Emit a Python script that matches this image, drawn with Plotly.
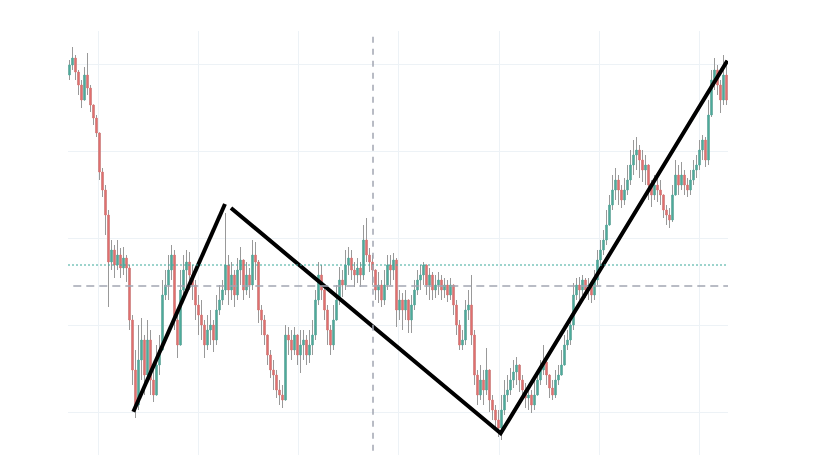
import plotly.graph_objects as go

# ---- data (price values) ----
close = [43.5, 44.2, 42.8, 41.5, 40.0, 42.5, 41.2, 39.5, 38.2, 36.7,
         32.8, 31.0, 28.5, 23.8, 25.0, 23.5, 24.5, 23.2, 24.2, 23.2,
         18.0, 13.0, 9.5, 14.0, 16.0, 12.5, 16.0, 12.0, 10.5, 13.5,
         15.0, 20.5, 21.5, 23.0, 24.5, 18.0, 15.5, 21.0, 23.0, 23.8,
         22.5, 21.5, 19.5, 18.5, 17.5, 15.5, 17.0, 17.5, 16.0, 19.0,
         20.0, 21.0, 23.5, 21.0, 22.5, 20.5, 23.0, 24.0, 21.0, 22.5,
         21.5, 24.5, 23.8, 19.0, 18.0, 16.5, 14.5, 13.0, 12.5, 11.0,
         10.5, 10.0, 16.5, 16.0, 15.0, 16.5, 14.5, 15.5, 16.0, 14.5,
         15.5, 16.5, 20.0, 22.5, 21.0, 19.0, 17.0, 15.5, 18.0, 20.0,
         22.0, 21.5, 23.5, 24.2, 23.0, 22.5, 23.2, 22.5, 26.0, 24.5,
         23.8, 23.0, 21.0, 21.5, 20.0, 21.5, 23.5, 23.0, 24.0, 19.0,
         20.0, 19.0, 20.0, 18.0, 19.5, 21.0, 22.0, 22.5, 23.5, 21.5,
         22.5, 21.0, 21.5, 22.0, 21.0, 21.5, 20.5, 21.5, 19.5, 17.5,
         15.5, 16.0, 19.0, 19.5, 16.5, 12.5, 10.5, 12.0, 11.0, 13.0,
         10.0, 9.0, 8.0, 7.2, 9.0, 10.5, 11.0, 12.0, 12.8, 13.5,
         12.0, 11.0, 10.2, 10.5, 9.5, 10.5, 12.0, 13.0, 13.8, 12.5,
         11.2, 10.5, 12.0, 12.5, 13.5, 15.5, 16.0, 17.5, 20.5, 21.5,
         21.0, 22.0, 21.0, 21.5, 20.5, 22.0, 24.0, 25.0, 26.0, 27.5,
         29.5, 31.0, 32.0, 31.0, 30.0, 31.0, 32.0, 33.5, 34.5, 35.0,
         34.0, 33.0, 33.5, 31.5, 30.5, 31.5, 31.0, 30.5, 29.0, 28.5,
         28.0, 30.5, 32.5, 31.5, 32.5, 31.5, 31.0, 32.0, 33.0, 33.5,
         35.0, 36.0, 34.0, 38.5, 42.0, 43.0, 41.5, 40.0, 42.5, 40.0]

high = [44.0, 45.3, 44.5, 43.0, 42.0, 43.3, 44.7, 41.5, 39.5, 38.5,
        36.7, 33.2, 31.5, 29.0, 26.0, 25.5, 26.0, 25.2, 25.3, 24.5,
        23.5, 18.5, 15.0, 17.5, 18.2, 16.5, 18.0, 17.0, 13.5, 15.5,
        16.5, 22.0, 23.0, 24.5, 25.5, 25.0, 19.0, 23.0, 24.5, 25.0,
        24.8, 23.5, 22.0, 20.5, 20.0, 18.0, 18.5, 19.0, 18.0, 20.5,
        21.5, 22.0, 28.7, 24.5, 23.8, 23.0, 24.2, 25.3, 23.5, 23.8,
        23.2, 26.0, 25.8, 24.0, 19.5, 18.5, 16.5, 15.0, 14.0, 13.0,
        12.0, 11.5, 17.5, 17.3, 17.0, 17.3, 16.5, 17.0, 17.0, 16.5,
        17.0, 18.0, 21.0, 23.8, 23.5, 21.5, 19.5, 17.5, 19.5, 21.5,
        23.3, 23.0, 25.0, 25.3, 25.0, 23.8, 24.2, 23.8, 27.5, 28.2,
        25.2, 24.5, 23.0, 22.8, 22.0, 23.0, 24.5, 24.5, 24.7, 24.2,
        21.0, 20.7, 21.0, 20.0, 20.5, 22.0, 23.0, 23.5, 23.8, 23.5,
        23.2, 22.8, 22.5, 22.8, 22.5, 22.2, 22.0, 22.2, 21.5, 20.0,
        18.0, 17.0, 20.0, 21.0, 22.5, 17.0, 13.0, 13.5, 13.0, 15.2,
        13.0, 10.5, 9.5, 9.0, 10.5, 12.0, 12.5, 13.2, 14.0, 14.3,
        13.5, 12.5, 11.7, 11.5, 11.0, 12.0, 13.0, 14.0, 15.5, 14.5,
        12.5, 12.0, 13.0, 13.5, 15.0, 16.5, 17.0, 18.5, 21.7, 22.2,
        22.3, 22.5, 22.2, 22.2, 21.8, 23.0, 25.0, 26.0, 27.0, 29.0,
        30.5, 32.5, 33.2, 32.5, 31.5, 32.2, 33.5, 35.0, 36.0, 36.3,
        35.5, 35.0, 34.5, 33.5, 32.0, 32.5, 32.2, 32.0, 30.5, 29.5,
        29.2, 31.5, 34.0, 33.5, 33.8, 33.0, 32.2, 33.0, 34.0, 34.5,
        36.0, 36.5, 36.3, 40.0, 43.0, 44.2, 43.5, 42.0, 44.5, 44.0]

low = [42.0, 43.0, 42.0, 40.5, 39.2, 40.0, 40.5, 38.8, 37.5, 36.3,
       32.0, 30.3, 26.5, 19.3, 23.0, 22.2, 23.0, 22.2, 22.5, 21.8,
       17.0, 11.5, 8.2, 9.0, 12.0, 10.5, 12.0, 10.5, 9.8, 11.0,
       12.5, 15.0, 20.0, 20.0, 22.0, 17.0, 14.2, 16.0, 20.0, 21.0,
       21.0, 20.0, 18.0, 16.5, 16.0, 14.2, 15.0, 15.5, 14.8, 15.5,
       18.5, 19.5, 20.5, 19.5, 20.0, 19.3, 20.0, 21.5, 20.0, 20.5,
       20.2, 21.0, 22.0, 17.7, 16.5, 15.5, 13.5, 12.2, 11.0, 10.2,
       9.5, 9.2, 10.0, 14.5, 14.0, 14.5, 13.5, 12.7, 14.0, 13.5,
       13.7, 14.5, 16.0, 19.5, 20.0, 18.0, 15.5, 14.5, 15.0, 18.0,
       19.5, 20.3, 21.0, 22.5, 22.0, 21.3, 21.7, 21.3, 22.0, 23.8,
       22.8, 21.5, 20.0, 19.7, 19.3, 19.5, 21.0, 21.5, 22.0, 17.3,
       18.0, 17.0, 18.0, 16.7, 16.7, 19.0, 20.5, 21.0, 21.5, 20.5,
       20.0, 20.0, 20.2, 20.5, 20.0, 20.2, 19.8, 20.0, 18.5, 16.5,
       15.0, 15.0, 15.5, 18.0, 15.5, 11.5, 9.5, 10.0, 9.5, 10.5,
       8.8, 8.0, 7.0, 6.3, 6.0, 8.5, 9.8, 10.5, 11.2, 11.5,
       10.8, 10.0, 9.2, 9.0, 8.7, 9.0, 10.5, 11.5, 12.5, 11.5,
       10.2, 10.0, 10.2, 11.5, 12.5, 14.0, 15.0, 15.5, 17.0, 20.0,
       20.0, 20.5, 20.2, 20.0, 19.7, 20.0, 21.5, 23.5, 24.5, 25.5,
       27.5, 29.0, 30.0, 29.5, 29.2, 29.5, 30.5, 31.5, 32.5, 33.0,
       32.2, 31.8, 31.5, 30.0, 29.3, 30.0, 29.8, 29.5, 28.2, 27.5,
       27.2, 27.8, 30.5, 30.5, 31.0, 30.5, 30.3, 30.5, 31.5, 32.2,
       33.0, 34.0, 33.3, 33.5, 38.3, 41.0, 40.5, 38.7, 39.5, 39.5]

first_open = 42.5
open_ = [first_open] + close[:-1]
idx = list(range(len(close)))

# trend lines drawn over the candles (index, price)
trend1_x = [21.27, 51.83]
trend1_y = [8.83, 29.6]
trend2_x = [53.83, 143.73, 219.27]
trend2_y = [29.2, 6.67, 43.93]

level_dotted = 23.5
level_dashed = 21.4
marker_index = 101.17

# ---- figure ----
TEAL = "#4dab9c"
RED = "#e2706f"
WICK = "#999999"

fig = go.Figure()

# wicks (gray)
fig.add_trace(go.Candlestick(
    x=idx, open=open_, high=high, low=low, close=close,
    increasing=dict(line=dict(color=WICK, width=1), fillcolor=WICK),
    decreasing=dict(line=dict(color=WICK, width=1), fillcolor=WICK),
    showlegend=False, hoverinfo="skip"))

# bodies (coloured, no wicks)
body_hi = [max(o, c) for o, c in zip(open_, close)]
body_lo = [min(o, c) for o, c in zip(open_, close)]
fig.add_trace(go.Candlestick(
    x=idx, open=open_, high=body_hi, low=body_lo, close=close,
    increasing=dict(line=dict(color=TEAL, width=1), fillcolor=TEAL),
    decreasing=dict(line=dict(color=RED, width=1), fillcolor=RED),
    showlegend=False))

fig.add_trace(go.Scatter(x=trend1_x, y=trend1_y, mode="lines",
                         line=dict(color="black", width=4), showlegend=False))
fig.add_trace(go.Scatter(x=trend2_x, y=trend2_y, mode="lines",
                         line=dict(color="black", width=4), showlegend=False))

fig.add_shape(type="line", xref="paper", x0=0, x1=1, yref="y",
              y0=level_dotted, y1=level_dotted,
              line=dict(color="#3aa89a", width=1, dash="2px,2px"))
fig.add_shape(type="line", xref="paper", x0=0.008, x1=1, yref="y",
              y0=level_dashed, y1=level_dashed,
              line=dict(color="#a2a6b2", width=1.5, dash="8px,5px"))
fig.add_shape(type="line", xref="x", x0=marker_index, x1=marker_index,
              yref="paper", y0=0.01, y1=1,
              line=dict(color="#a2a6b2", width=1.5, dash="6px,6px"))

fig.update_layout(
    width=823, height=464,
    margin=dict(l=60, r=103, t=23, b=17),
    paper_bgcolor="white", plot_bgcolor="white",
    showlegend=False,
    boxmode="overlay",
    boxgap=0.45,
    xaxis=dict(range=[-0.5, 219.5], showticklabels=False, rangeslider=dict(visible=False),
               showgrid=True, gridcolor="#edf2f6", gridwidth=1, zeroline=False,
               tick0=9.5, dtick=33.43, showline=False, ticks=""),
    yaxis=dict(range=[4.5, 46.9], showticklabels=False,
               showgrid=True, gridcolor="#edf2f6", gridwidth=1, zeroline=False,
               tick0=8.8, dtick=8.68, showline=False, ticks=""),
)

fig.write_html("out.html")
